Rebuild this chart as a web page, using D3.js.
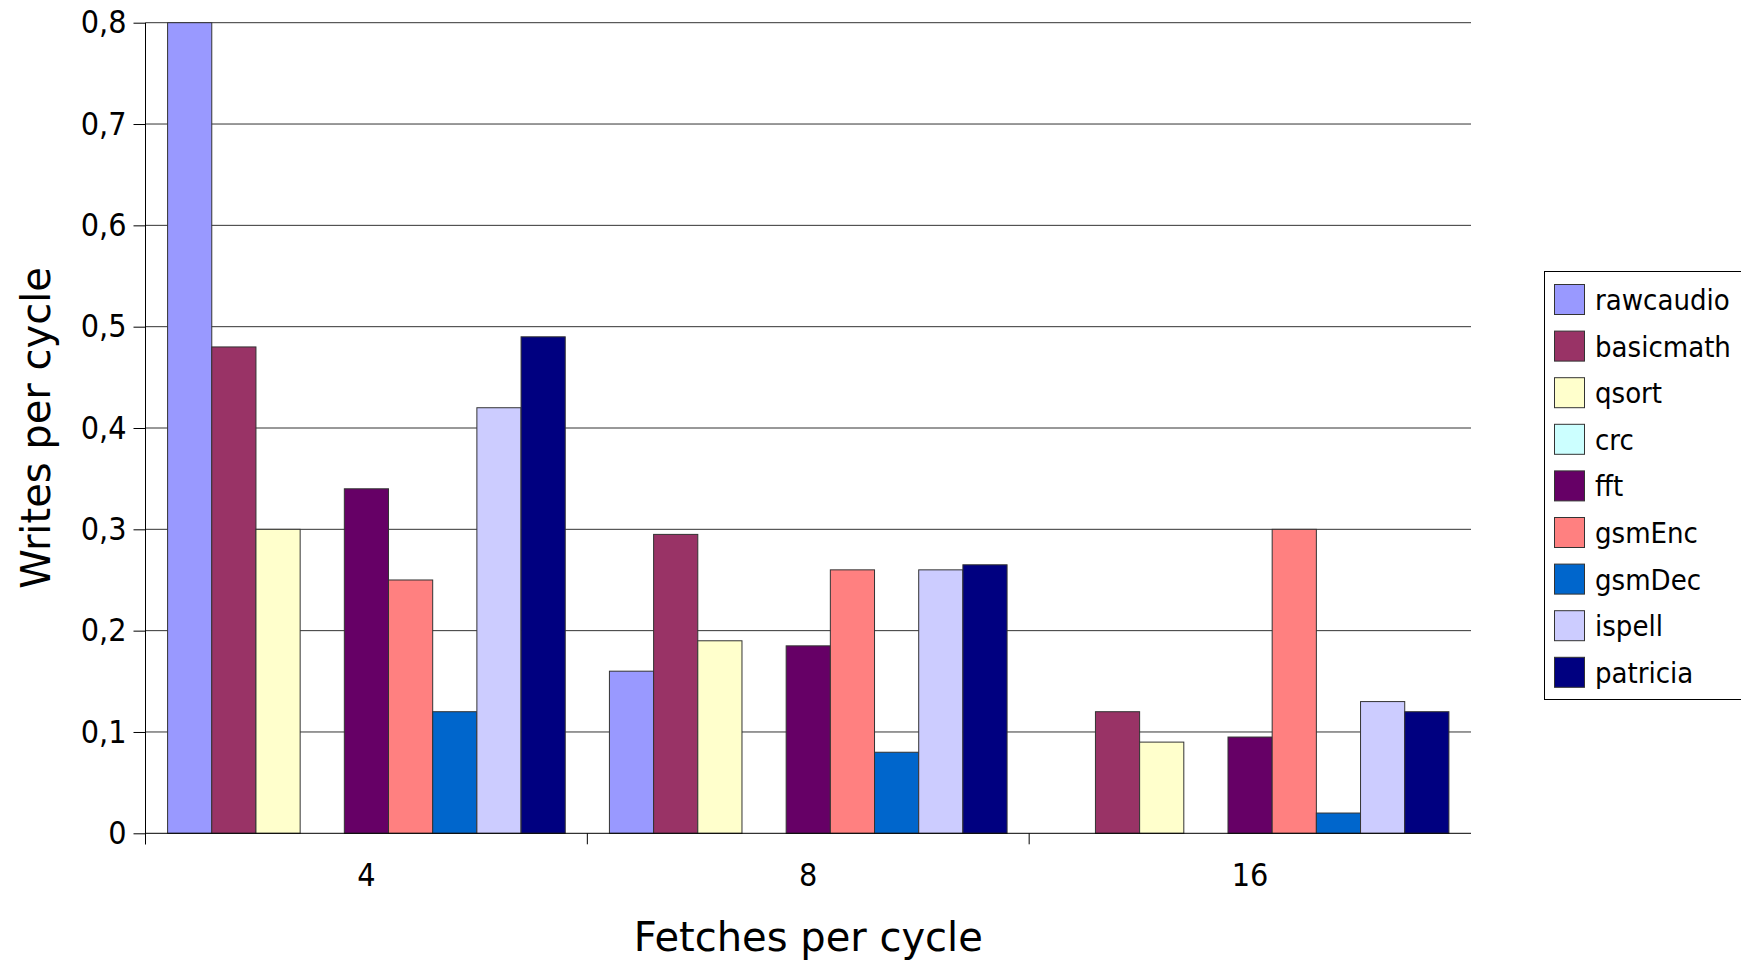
<!DOCTYPE html>
<html>
<head>
<meta charset="utf-8">
<script src="https://cdn.jsdelivr.net/npm/d3@7"></script>
<style>
  html, body { margin: 0; padding: 0; background: #fff; }
  svg { display: block; font-family: "DejaVu Sans", sans-serif; }
  .cond { font-family: "DejaVu Sans Condensed", "DejaVu Sans", sans-serif; font-stretch: condensed; }
</style>
</head>
<body>
<svg id="chart" width="1741" height="962"></svg>
<script>
// ---- data ----
const categories = ["4", "8", "16"];
const seriesNames = ["rawcaudio", "basicmath", "qsort", "crc", "fft", "gsmEnc", "gsmDec", "ispell", "patricia"];
const rawcaudio = [0.80, 0.16, 0.00];
const basicmath = [0.48, 0.295, 0.12];
const qsort     = [0.30, 0.19, 0.09];
const crc       = [0.00, 0.00, 0.00];
const fft       = [0.34, 0.185, 0.095];
const gsmEnc    = [0.25, 0.26, 0.30];
const gsmDec    = [0.12, 0.08, 0.02];
const ispell    = [0.42, 0.26, 0.13];
const patricia  = [0.49, 0.265, 0.12];
const yTickValues = [0, 0.1, 0.2, 0.3, 0.4, 0.5, 0.6, 0.7, 0.8];
const colors = ["#9999ff", "#993366", "#ffffcc", "#ccffff", "#660066", "#ff8080", "#0066cc", "#ccccff", "#000080"];

const seriesValues = [rawcaudio, basicmath, qsort, crc, fft, gsmEnc, gsmDec, ispell, patricia];
const table = categories.map((c, i) => ({
  cat: c,
  vals: seriesNames.map((s, j) => ({ name: s, value: seriesValues[j][i] }))
}));

// ---- layout ----
const svg = d3.select("#chart");
const pL = 145.5, pR = 1471, pT = 22.7, pB = 833.3;

const x0 = d3.scaleBand().domain(categories).range([pL, pR]).padding(0);
const x1 = d3.scaleBand().domain(seriesNames).range([0, x0.bandwidth()])
  .paddingInner(0).paddingOuter(0.5);
const y = d3.scaleLinear().domain([0, 0.8]).range([pB, pT]);
const color = d3.scaleOrdinal().domain(seriesNames).range(colors);
const locale = d3.formatLocale({ decimal: ",", thousands: ".", grouping: [3], currency: ["", ""] });
const fmt = v => v === 0 ? "0" : locale.format(".1f")(v);

// gridlines
svg.append("g").selectAll("line").data(yTickValues.filter(v => v > 0)).join("line")
  .attr("x1", pL).attr("x2", pR)
  .attr("y1", d => y(d)).attr("y2", d => y(d))
  .attr("stroke", "#333").attr("stroke-width", 1);

// bars
const groups = svg.append("g").selectAll("g").data(table).join("g")
  .attr("transform", d => `translate(${x0(d.cat)},0)`);
groups.selectAll("rect").data(d => d.vals).join("rect")
  .attr("x", d => x1(d.name))
  .attr("width", x1.bandwidth())
  .attr("y", d => y(d.value))
  .attr("height", d => y(0) - y(d.value))
  .attr("fill", d => color(d.name))
  .attr("stroke", "#333").attr("stroke-width", 1);

// y axis
const yAxis = svg.append("g").attr("transform", `translate(${pL},0)`)
  .call(d3.axisLeft(y).tickValues(yTickValues).tickFormat(fmt).tickSize(12).tickPadding(7));
yAxis.select(".domain").attr("d", `M0,${pT}V${pB + 11}`).attr("stroke", "#000");
yAxis.selectAll(".tick line").attr("stroke", "#000");
yAxis.selectAll(".tick text").attr("class", "cond").attr("font-size", 32).attr("fill", "#000")
  .attr("font-family", null);

// x axis
const xAxis = svg.append("g").attr("transform", `translate(0,${pB})`)
  .call(d3.axisBottom(x0).tickSize(0).tickPadding(30));
xAxis.select(".domain").attr("d", `M${pL},0H${pR}`).attr("stroke", "#000");
xAxis.selectAll(".tick text").attr("class", "cond").attr("font-size", 32).attr("fill", "#000")
  .attr("font-family", null).attr("dy", "0.71em");
xAxis.append("g").selectAll("line").data(categories).join("line")
  .attr("x1", d => x0(d)).attr("x2", d => x0(d))
  .attr("y1", 0).attr("y2", 11)
  .attr("stroke", "#000").attr("stroke-width", 1);
xAxis.attr("font-family", null);
yAxis.attr("font-family", null);

// axis titles
svg.append("text")
  .attr("x", (pL + pR) / 2).attr("y", 951)
  .attr("text-anchor", "middle").attr("font-size", 40).attr("fill", "#000")
  .text("Fetches per cycle");
svg.append("text")
  .attr("transform", `translate(50,${(pT + pB) / 2}) rotate(-90)`)
  .attr("text-anchor", "middle").attr("font-size", 40).attr("fill", "#000")
  .text("Writes per cycle");

// legend
const legend = svg.append("g");
legend.append("rect")
  .attr("x", 1544.5).attr("y", 271.5).attr("width", 210).attr("height", 428)
  .attr("fill", "#fff").attr("stroke", "#000").attr("stroke-width", 1);
const rowH = 46.6;
const items = legend.selectAll("g.item").data(seriesNames).join("g")
  .attr("class", "item")
  .attr("transform", (d, i) => `translate(1554.5,${284.5 + i * rowH})`);
items.append("rect").attr("width", 30).attr("height", 30)
  .attr("fill", d => color(d)).attr("stroke", "#333").attr("stroke-width", 1);
items.append("text").attr("class", "cond").attr("x", 40.5).attr("y", 25.5)
  .attr("font-size", 29).attr("fill", "#000").text(d => d);
</script>
</body>
</html>
